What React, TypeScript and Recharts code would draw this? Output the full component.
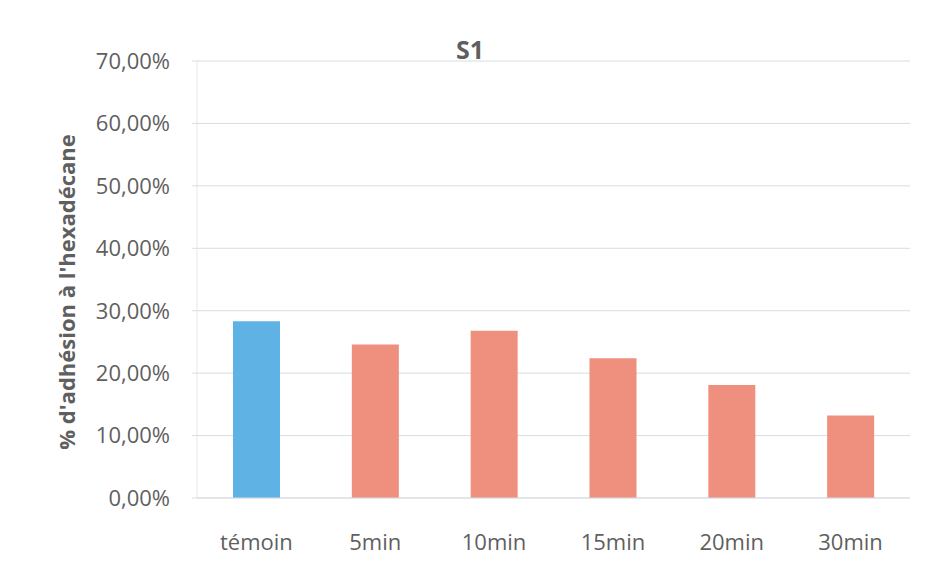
import React from "react";
import { BarChart, Bar, XAxis, YAxis, CartesianGrid, Cell } from "recharts";

// Hexadecane adhesion (MATH test) for strain S1, control vs. exposure times
const categories = ["témoin", "5min", "10min", "15min", "20min", "30min"];
const adhesion = [0.283, 0.246, 0.268, 0.224, 0.181, 0.132];
const yTicks = [0, 0.1, 0.2, 0.3, 0.4, 0.5, 0.6, 0.7];

const CONTROL_COLOR = "#5fb3e4";
const TREATED_COLOR = "#ef8f7e";
const TEXT_COLOR = "#5f5f5f";
const FONT = "'Open Sans', Lato, sans-serif";

const data = categories.map((name, i) => ({ name, value: adhesion[i] }));

const formatPercent = (v: number) => (v * 100).toFixed(2).replace(".", ",") + "%";

const YLabel = () => (
  <text
    x={66}
    y={292}
    transform="rotate(-90 66 292)"
    textAnchor="middle"
    dominantBaseline="central"
    fill={TEXT_COLOR}
    fontFamily={FONT}
    fontSize={22}
    fontWeight={700}
  >
    % d'adhésion à l'hexadécane
  </text>
);

export default function App() {
  return (
    <div style={{ position: "absolute", left: 0, top: 0, width: 926, height: 580, background: "#fff" }}>
      <BarChart
        width={926}
        height={580}
        data={data}
        margin={{ top: 61, right: 16, bottom: 52, left: 0 }}
        barSize={47}
      >
        <CartesianGrid vertical={false} stroke="#d8dde2" strokeWidth={1} />
        <XAxis
          dataKey="name"
          axisLine={{ stroke: "#d8dde2" }}
          tickLine={false}
          tickMargin={30}
          tick={{ fill: TEXT_COLOR, fontFamily: FONT, fontSize: 22 }}
        />
        <YAxis
          width={197}
          domain={[0, 0.7]}
          ticks={yTicks}
          tickFormatter={formatPercent}
          axisLine={{ stroke: "#e4e8ec" }}
          tickLine={{ stroke: "#d8dde2" }}
          tickSize={5}
          tickMargin={22}
          tick={{ fill: TEXT_COLOR, fontFamily: FONT, fontSize: 22 }}
          label={<YLabel />}
        />
        <Bar dataKey="value" isAnimationActive={false}>
          {data.map((d, i) => (
            <Cell key={d.name} fill={i === 0 ? CONTROL_COLOR : TREATED_COLOR} />
          ))}
        </Bar>
        <text
          x={470}
          y={49}
          textAnchor="middle"
          dominantBaseline="central"
          fill={TEXT_COLOR}
          fontFamily={FONT}
          fontSize={25}
          fontWeight={700}
        >
          S1
        </text>
      </BarChart>
    </div>
  );
}
